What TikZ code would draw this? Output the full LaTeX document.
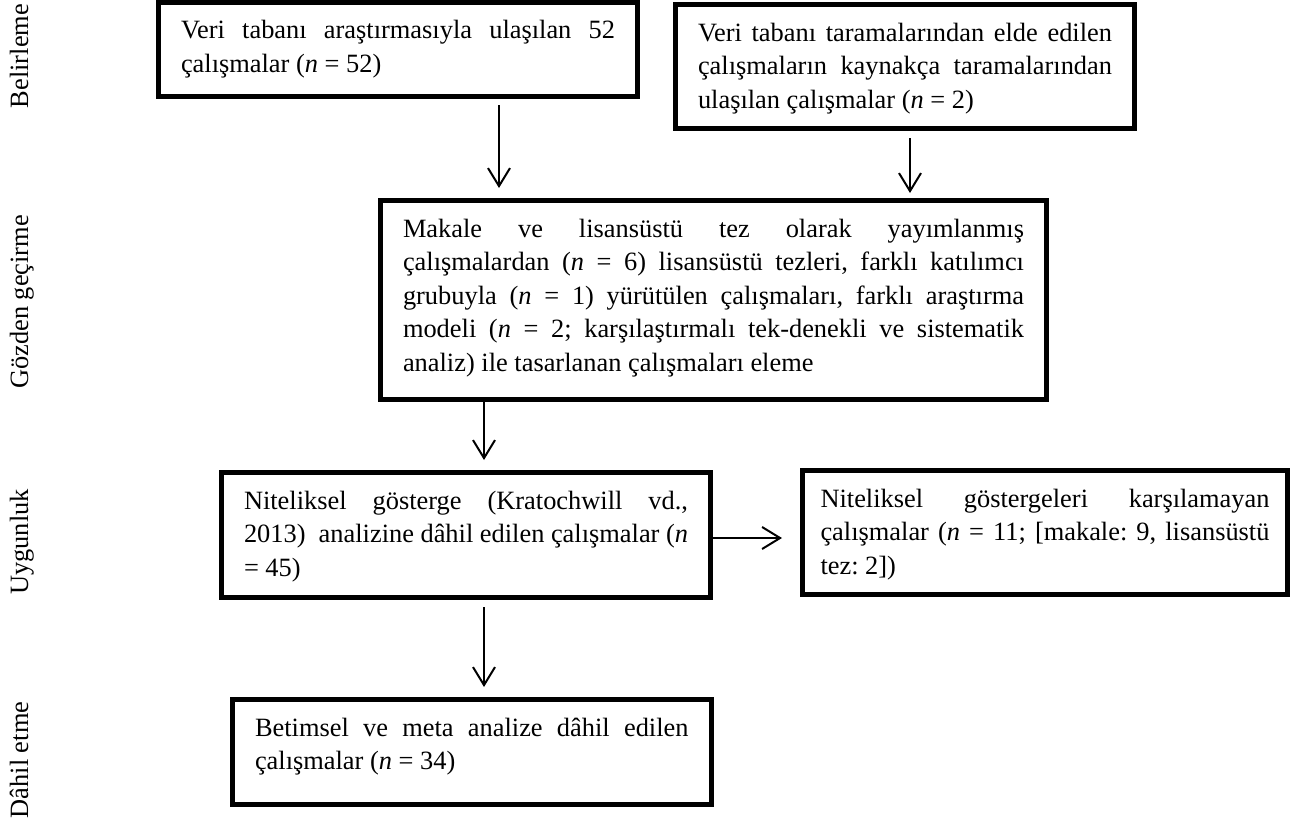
\documentclass[tikz,border=0pt]{standalone}
\usepackage{fontspec}
\setmainfont{Liberation Serif}
\usetikzlibrary{arrows.meta,positioning}
\newcommand\boxfont{\fontsize{13.2pt}{16.75pt}\selectfont\frenchspacing}
\newcommand\jline[1]{\makebox[\linewidth][s]{#1}\\}
\tikzset{
  box/.style={draw, line width=2.5pt, anchor=north west, align=justify,
    inner xsep=11.25pt, inner ysep=0pt, text height=18.25pt, font=\boxfont},
  stage/.style={rotate=90, anchor=base, font=\boxfont},
  edgeto/.style={black, line width=1pt, -{Straight Barb[length=9pt,width=11pt]}}
}

\begin{document}
\begin{tikzpicture}[x=0.5pt, y=-0.5pt]
\useasboundingbox (0,0) rectangle (1301,819);
% stage labels
\node[stage] (s1) at (28,56) {Belirleme};
\node[stage] (s2) at (28,302) {Gözden geçirme};
\node[stage] (s3) at (28,542) {Uygunluk};
\node[stage] (s4) at (28,760) {Dâhil etme};
% boxes
\node[box, text width=217pt, text depth=28.75pt] (b1) at (156,0)
  {\jline{Veri tabanı araştırmasıyla ulaşılan 52}çalışmalar (\textit{n} = 52)};
\node[box, text width=207pt, text depth=43.75pt] (b2) at (673,2)
  {\jline{Veri tabanı taramalarından elde edilen}\jline{çalışmaların kaynakça taramalarından}ulaşılan çalışmalar (\textit{n} = 2)};
\node[box, text width=310.5pt, text depth=81.25pt] (b3) at (378,198)
  {\jline{Makale ve lisansüstü tez olarak yayımlanmış}\jline{çalışmalardan (\textit{n} = 6) lisansüstü tezleri, farklı katılımcı}\jline{grubuyla (\textit{n} = 1) yürütülen çalışmaları, farklı araştırma}\jline{modeli (\textit{n} = 2; karşılaştırmalı tek-denekli ve sistematik}analiz) ile tasarlanan çalışmaları eleme};
\node[box, text width=222pt, text depth=44.25pt] (b4) at (219,470)
  {\jline{Niteliksel gösterge (Kratochwill vd.,}\jline{2013)~ analizine dâhil edilen çalışmalar (\textit{n}}= 45)};
\node[box, inner xsep=9pt, text width=224.5pt, text depth=43.75pt] (b5) at (800,468)
  {\jline{Niteliksel göstergeleri karşılamayan}\jline{çalışmalar (\textit{n} = 11; [makale: 9, lisansüstü}tez: 2])};
\node[box, text width=216.75pt, text depth=34.25pt] (b6) at (230,697)
  {\jline{Betimsel ve meta analize dâhil edilen}çalışmalar (\textit{n} = 34)};
% arrows
\coordinate (x1) at (499,0);
\coordinate (x2) at (910,0);
\coordinate (x3) at (484,0);
\draw[edgeto, shorten <=3pt, shorten >=5pt] (b1.south -| x1) -- (b3.north -| x1);
\draw[edgeto, shorten <=3.5pt, shorten >=2.5pt] (b2.south -| x2) -- (b3.north -| x2);
\draw[edgeto, shorten >=5pt] (b3.south -| x3) -- (b4.north -| x3);
\draw[edgeto, shorten >=9pt] ([yshift=-1.5pt]b4.east) -- ([yshift=-1.5pt]b4.east -| b5.west);
\draw[edgeto, shorten <=3.5pt, shorten >=5pt] (b4.south -| x3) -- (b6.north -| x3);
\end{tikzpicture}
\end{document}
